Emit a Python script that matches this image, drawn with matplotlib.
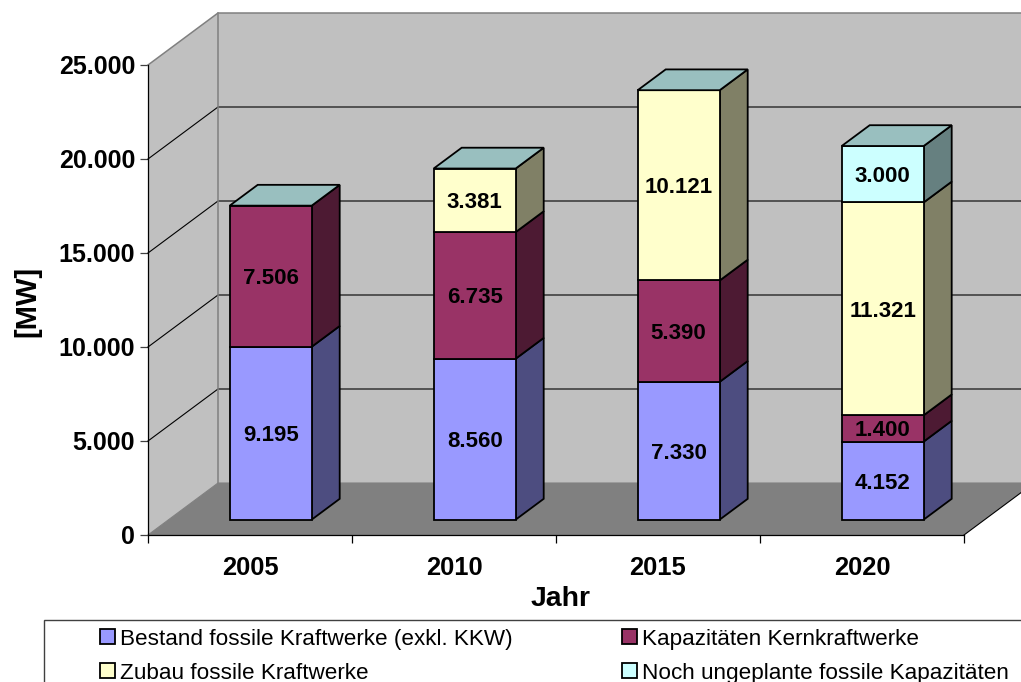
import matplotlib
matplotlib.use("Agg")
import matplotlib.pyplot as plt
from matplotlib.patches import Polygon, Patch
from matplotlib.ticker import FuncFormatter

plt.rcParams['font.family'] = ['Liberation Sans', 'DejaVu Sans']

years = ['2005', '2010', '2015', '2020']
bestand = [9195, 8560, 7330, 4152]
kern = [7506, 6735, 5390, 1400]
zubau = [0, 3381, 10121, 11321]
ungeplant = [0, 0, 0, 3000]
names = ['Bestand fossile Kraftwerke (exkl. KKW)', 'Kapazitäten Kernkraftwerke',
         'Zubau fossile Kraftwerke', 'Noch ungeplante fossile Kapazitäten']
series = [bestand, kern, zubau, ungeplant]
front_cols = ['#9999FF', '#993366', '#FFFFCC', '#CCFFFF']
side_cols = ['#4D4D80', '#4D1A33', '#808066', '#668080']
top_col = '#99BFBF'

W, H = 1021, 682
fig = plt.figure(figsize=(W/100, H/100), dpi=100)
L, R, T, B = 148, 964, 65, 535
ax = fig.add_axes([L/W, 1-B/H, (R-L)/W, (B-T)/H])
ax.set_xlim(0, 4)
ax.set_ylim(0, 25000)
ax.patch.set_visible(False)

DX = 70/(R-L)*4       # depth offset in data units
DY = 52/(B-T)*25000


def P(x, y, d=0.0):
    return (x + DX*d, y + DY*d)


def poly(pts, z, fc='none', ec='none', lw=0.0):
    ax.add_patch(Polygon(pts, closed=True, fc=fc, ec=ec, lw=lw, zorder=z,
                         clip_on=False, joinstyle='miter'))


# walls and floor
poly([P(0, 0), P(0, 25000), P(0, 25000, 1), P(0, 0, 1)], 1, fc='#C0C0C0')
poly([P(0, 0, 1), P(0, 25000, 1), P(4, 25000, 1), P(4, 0, 1)], 1, fc='#C0C0C0')
poly([P(0, 0), P(4, 0), P(4, 0, 1), P(0, 0, 1)], 1.5, fc='#808080')

ticks = [0, 5000, 10000, 15000, 20000, 25000]
for v in ticks[1:-1]:
    xs, ys = zip(P(0, v), P(0, v, 1), P(4, v, 1))
    ax.plot(xs, ys, color='black', lw=0.8, zorder=2, clip_on=False)
xs, ys = zip(P(0, 25000), P(0, 25000, 1), P(4, 25000, 1))
ax.plot(xs, ys, color='#808080', lw=1.1, zorder=2, clip_on=False)
xs, ys = zip(P(0, 0, 1), P(0, 25000, 1))
ax.plot(xs, ys, color='#808080', lw=1.1, zorder=2, clip_on=False)
xs, ys = zip(P(0, 0), P(0, 0, 1), P(4, 0, 1))
ax.plot(xs, ys, color='#808080', lw=0.8, zorder=2, clip_on=False)
xs, ys = zip(P(4, 0), P(4, 0, 1))
ax.plot(xs, ys, color='black', lw=0.8, zorder=2, clip_on=False)

# stacked 3D bars
BW = 82/204
D0, D1 = 20.7/70, 48.7/70
for i in range(len(years)):
    x0 = i + 0.5 - BW/2
    x1 = i + 0.5 + BW/2
    base = 0
    for k, s in enumerate(series):
        v = s[i]
        if v <= 0:
            continue
        top = base + v
        z = 3 + k*0.1
        poly([P(x1, base, D0), P(x1, top, D0), P(x1, top, D1), P(x1, base, D1)],
             z, fc=side_cols[k], ec='black', lw=1.3)
        poly([P(x0, base, D0), P(x1, base, D0), P(x1, top, D0), P(x0, top, D0)],
             z+0.01, fc=front_cols[k], ec='black', lw=1.3)
        ax.annotate(f'{v:,}'.replace(',', '.'), P(i+0.5, base+v/2, D0),
                    xytext=(0, -1.8), textcoords='offset points', ha='center', va='center',
                    fontsize=16, fontweight='bold', color='black', zorder=5)
        base = top
    poly([P(x0, base, D0), P(x1, base, D0), P(x1, base, D1), P(x0, base, D1)],
         4, fc=top_col, ec='black', lw=1.3)

# axes furniture
for s in ['top', 'right']:
    ax.spines[s].set_visible(False)
for s in ['left', 'bottom']:
    ax.spines[s].set_linewidth(0.9)
    ax.spines[s].set_zorder(2.5)
ax.set_yticks(ticks)
ax.yaxis.set_major_formatter(FuncFormatter(lambda v, _: f'{int(v):,}'.replace(',', '.')))
ax.tick_params(axis='y', length=5.8, width=0.9, pad=3.5, labelsize=18, color='#404040')
for t in ax.get_yticklabels():
    t.set_fontweight('bold')
ax.set_xticks(range(5))
ax.set_xticklabels([])
ax.set_xticks([i+0.5 for i in range(4)], minor=True)
ax.set_xticklabels(years, minor=True, fontsize=18.4, fontweight='bold')
ax.tick_params(axis='x', which='major', length=5.8, width=0.9)
ax.tick_params(axis='x', which='minor', length=0, pad=15)
fig.text(561/W, 1-598.5/H, 'Jahr', ha='center', va='center', fontsize=20.4, fontweight='bold')
fig.text(27/W, 1-301/H, '[MW]', ha='center', va='center', rotation=90, fontsize=21, fontweight='bold')

# legend
fig.patches.append(plt.Rectangle((44/W, -0.05), 1.05-44/W, 0.05+1-619.5/H, transform=fig.transFigure,
                                 fc='white', ec='#404040', lw=1.0))
handles = [Patch(fc=c, ec='black', lw=1.3) for c in front_cols]
order = [0, 2, 1, 3]
leg = fig.legend([handles[j] for j in order], [names[j] for j in order], ncol=2,
                 loc='upper left', bbox_to_anchor=(100/W, 1-628.5/H), bbox_transform=fig.transFigure,
                 frameon=False, fontsize=16.2, handlelength=0.667, handleheight=0.667,
                 handletextpad=0.22, labelspacing=0.58, columnspacing=4.87, borderpad=0, borderaxespad=0)

fig.savefig('out.png', dpi=100)
